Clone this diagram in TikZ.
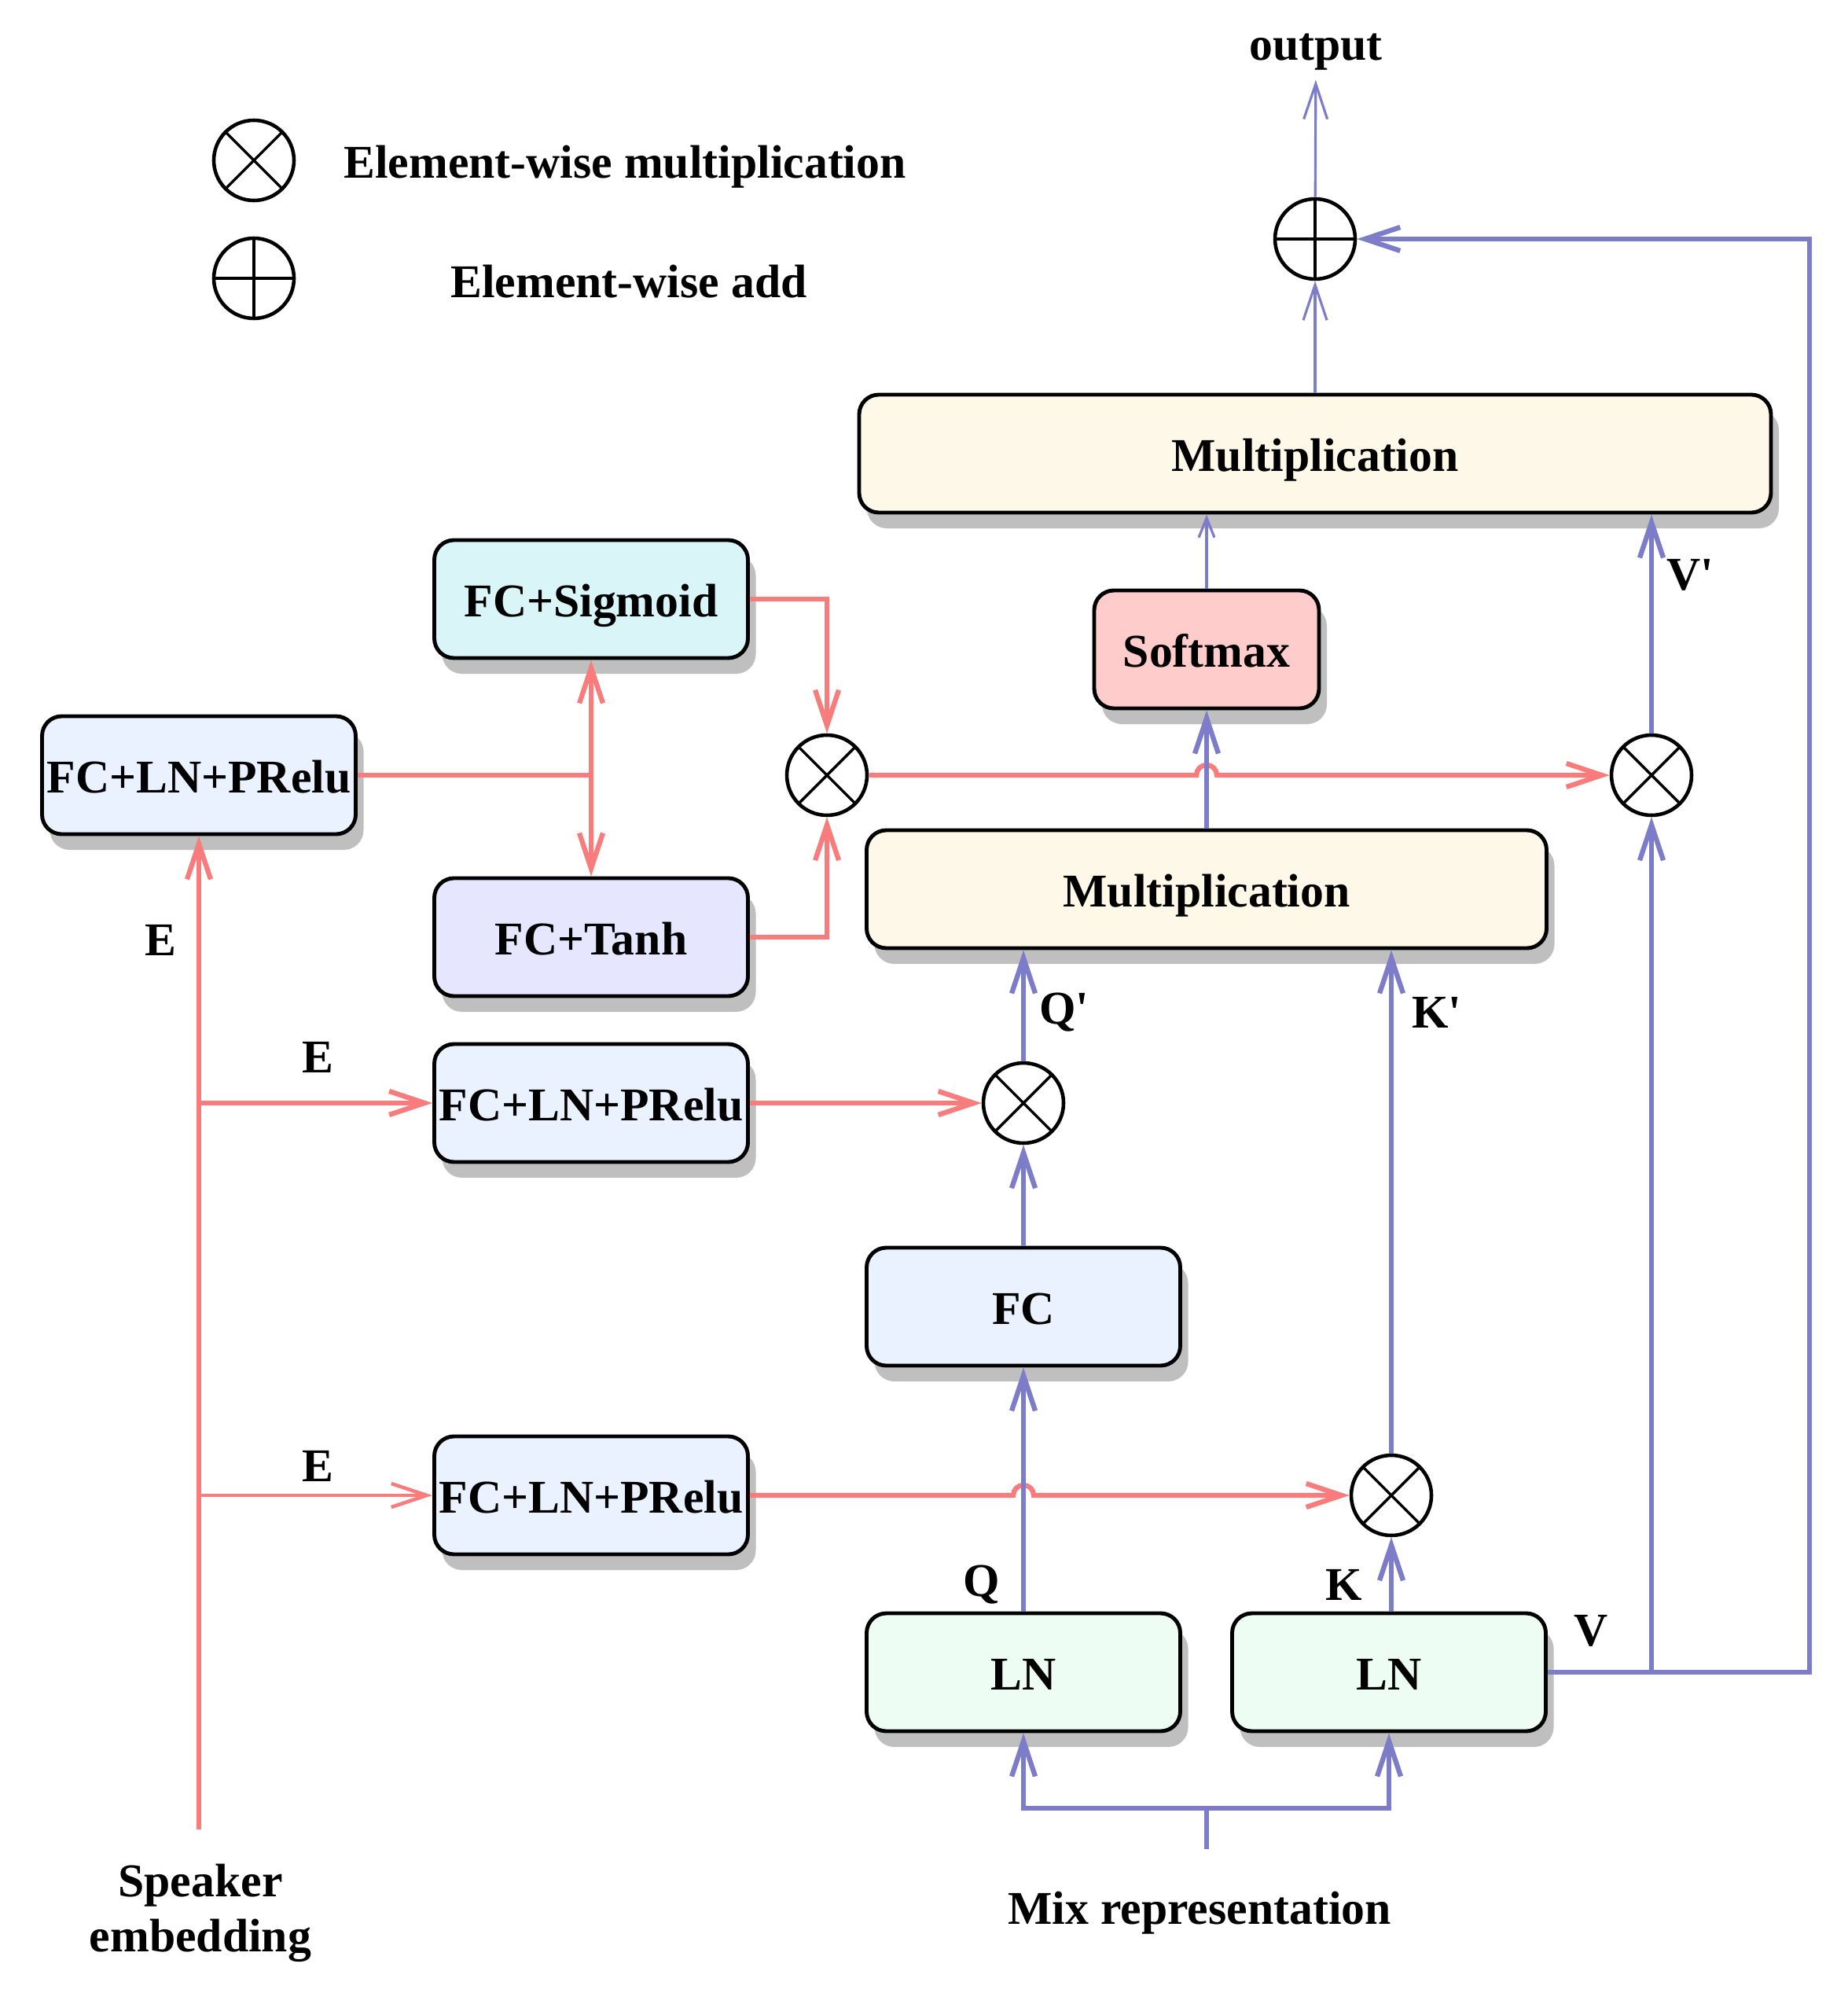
\documentclass[tikz,border=0pt]{standalone}
\usepackage{fontspec}
\setmainfont{Liberation Serif}
\usetikzlibrary{positioning,arrows.meta,calc,shadows}
\definecolor{redln}{RGB}{248,124,124}
\definecolor{blueln}{RGB}{124,124,200}
\definecolor{fillfc}{RGB}{235,242,255}
\definecolor{fillsig}{RGB}{218,245,247}
\definecolor{filltanh}{RGB}{230,230,255}
\definecolor{fillsoft}{RGB}{255,204,204}
\definecolor{fillmul}{RGB}{253,248,232}
\definecolor{fillln}{RGB}{237,253,243}

\begin{document}
\begin{tikzpicture}[
  every node/.style={font=\fontsize{17}{20}\selectfont\bfseries,align=center},
  blk/.style={draw=black,line width=1.4pt,rounded corners=2.5mm,
    minimum width=3.99cm,minimum height=1.5cm,inner sep=1pt,
    text height=15pt,text depth=2pt,
    drop shadow={shadow xshift=1mm,shadow yshift=-2mm,fill=black!25,opacity=1}},
  mulop/.style={circle,draw=black,line width=1.3pt,minimum size=1.02cm,inner sep=0pt,
    path picture={\draw[line width=1pt]
      (path picture bounding box.north west) -- (path picture bounding box.south east)
      (path picture bounding box.north east) -- (path picture bounding box.south west);}},
  addop/.style={circle,draw=black,line width=1.3pt,minimum size=1.02cm,inner sep=0pt,
    path picture={\draw[line width=1.3pt]
      (path picture bounding box.north) -- (path picture bounding box.south)
      (path picture bounding box.west) -- (path picture bounding box.east);}},
  rline/.style={draw=redln,line width=1.8pt},
  bline/.style={draw=blueln,line width=1.8pt},
  bthin/.style={draw=blueln,line width=0.9pt},
  arr/.style={-{Straight Barb[length=4.5mm,width=3mm]}},
  sarr/.style={-{Straight Barb[length=2.5mm,width=2mm]}}
 ]
  \useasboundingbox (0,0) rectangle (23.5,-25.35);
  % legend
  \node[mulop] (lgmul) at (3.23,-2.04) {};
  \node[addop] (lgadd) at (3.23,-3.54) {};
  \node (lgmultxt) at (7.95,-2.12) {Element-wise multiplication};
  \node (lgaddtxt) at (8.00,-3.58) {Element-wise add};
  % blocks
  \node[addop] (add) at (16.73,-3.04) {};
  \node (out) at (16.74,-0.66) {output};
  \node[blk,fill=fillmul,minimum width=11.6cm] (multop) at (16.73,-5.77) {Multiplication};
  \node[blk,fill=fillsoft,minimum width=2.86cm] (soft) at (15.35,-8.26) {Softmax};
  \node[blk,fill=fillsig] (sig) at (7.52,-7.62) {FC+Sigmoid};
  \node[blk,fill=fillfc] (pre1) at (2.53,-9.86) {FC+LN+PRelu};
  \node[blk,fill=filltanh] (tanh) at (7.52,-11.92) {FC+Tanh};
  \node[mulop] (mA) at (10.52,-9.86) {};
  \node[mulop] (mC) at (21.01,-9.86) {};
  \node[blk,fill=fillmul,minimum width=8.65cm] (mullow) at (15.35,-11.31) {Multiplication};
  \node[blk,fill=fillfc] (pre2) at (7.52,-14.03) {FC+LN+PRelu};
  \node[mulop] (mB) at (13.02,-14.03) {};
  \node[blk,fill=fillfc] (fc) at (13.02,-16.62) {FC};
  \node[blk,fill=fillfc] (pre3) at (7.52,-19.02) {FC+LN+PRelu};
  \node[mulop] (mD) at (17.70,-19.02) {};
  \node[blk,fill=fillln] (ln1) at (13.02,-21.27) {LN};
  \node[blk,fill=fillln] (ln2) at (17.67,-21.27) {LN};
  % inputs
  \node (spktxt) at (2.55,-24.33) {Speaker\\embedding};
  \node (mixtxt) at (15.26,-24.33) {Mix representation};
  \coordinate (spk) at (2.53,-23.27);
  \coordinate (mixin) at (15.35,-23.52);
  \coordinate (mixj) at (15.35,-23.0);
  \coordinate (fork) at (sig |- pre1);
  \coordinate (vR) at (23.02,-3.04);
  \coordinate (vj) at (21.01,-21.27);
  % labels
  \node (lE1) at (2.04,-11.96) {E};
  \node (lE2) at (4.04,-13.45) {E};
  \node (lE3) at (4.04,-18.65) {E};
  \node (lQp) at (13.54,-12.88) {Q\textquotesingle};
  \node (lKp) at (18.28,-12.88) {K\textquotesingle};
  \node (lQ) at (12.49,-20.16) {Q};
  \node (lK) at (17.10,-20.16) {K};
  \node (lV) at (20.24,-20.74) {V};
  \node (lVp) at (21.50,-7.31) {V\textquotesingle};
  % speaker branch
  \draw[rline,arr] (spk) -- (pre1);
  \draw[rline,arr] (spk |- pre2) -- (pre2);
  \draw[rline,arr,line width=1.3pt] (spk |- pre3) -- (pre3);
  \draw[rline] (pre1) -- (fork);
  \draw[rline,arr] (fork) -- (sig);
  \draw[rline,arr] (fork) -- (tanh);
  \draw[rline,arr] (sig) -| (mA);
  \draw[rline,arr] (tanh) -| (mA);
  \draw[rline,arr] (mA) -- ([xshift=-1.3mm]soft |- mA)
    arc[start angle=180,end angle=0,radius=1.3mm] -- (mC);
  \draw[rline,arr] (pre2) -- (mB);
  \draw[rline,arr] (pre3) -- ([xshift=-1.3mm]fc |- pre3)
    arc[start angle=180,end angle=0,radius=1.3mm] -- (mD);
  % mix branch
  \draw[bline,arr] (mixin) -- (mixj) -| (ln1);
  \draw[bline,arr] (mixj) -| (ln2.south);
  \draw[bline,arr] (ln1) -- (fc);
  \draw[bline,arr] (fc) -- (mB);
  \draw[bline,arr] (mB) -- (mB |- mullow.south);
  \draw[bline,arr] (ln2.north -| mD) -- (mD);
  \draw[bline,arr] (mD) -- (mD |- mullow.south);
  \draw[bline,arr] (mullow) -- (soft);
  \draw[bthin,sarr] (soft) -- (soft |- multop.south);
  \draw[bline] (ln2.east) -- (vj);
  \draw[bline,arr] (vj) -- (mC);
  \draw[bline,arr] (vj) -| (vR) -- (add);
  \draw[bline,arr] (mC) -- (mC |- multop.south);
  \draw[bthin,arr] (multop) -- (add);
  \draw[bthin,arr] (add) -- (out);
 \end{tikzpicture}
\end{document}
